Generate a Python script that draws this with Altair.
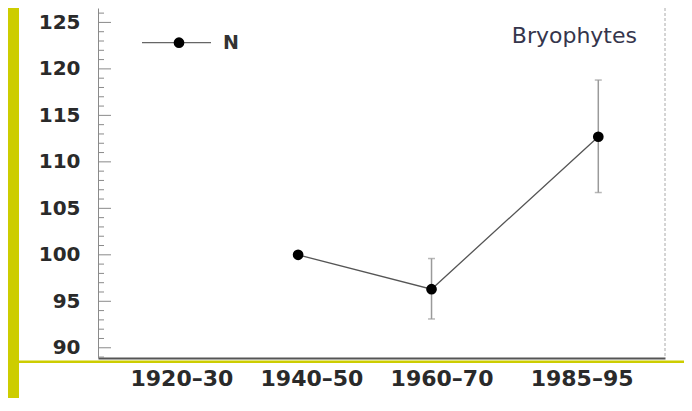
import altair as alt
import pandas as pd

# ---- data ----
periods = ["1920–30", "1940–50", "1960–70", "1985–95"]
label_pos = [1927.5, 1947, 1966.5, 1987.5]      # where the period labels sit on the year axis
point_year = [1945, 1965, 1990]                 # mid-years of the periods with data
n_values = [100.0, 96.3, 112.7]
err_low = [None, 93.1, 106.7]
err_high = [None, 99.6, 118.8]
y_major = [90, 95, 100, 105, 110, 115, 120, 125]
y_minor = list(range(89, 127))
legend_label = "N"
panel_title = "Bryophytes"

YELLOW = "#cdcd00"
FONT = "DejaVu Sans"

df = pd.DataFrame({"year": point_year, "N": n_values})
err_df = pd.DataFrame({"year": point_year, "lo": err_low, "hi": err_high}).dropna()
minor_df = pd.DataFrame({"t": [v for v in y_minor if v not in y_major]})
major_df = pd.DataFrame({"t": y_major})
one = pd.DataFrame({"k": [0]})

xs = alt.Scale(domain=[1915, 2000], nice=False, zero=False)
ys = alt.Scale(domain=[88.9, 126.55], nice=False, zero=False)

label_expr = (
    "[" + ",".join("'" + p + "'" for p in periods) + "]"
    "[indexof([" + ",".join(str(v) for v in label_pos) + "], datum.value)]"
)

x_axis = alt.Axis(
    title="", values=label_pos, labelExpr=label_expr, ticks=False, grid=False,
    domainColor="#555555", domainWidth=2, labelFontSize=22, labelColor="#2a2a2a",
    labelPadding=10, labelFont=FONT, labelFontWeight="bold",
)
y_axis = alt.Axis(
    title="", values=y_major, ticks=False, grid=False, domainColor="#8a8a8a",
    domainWidth=1, labelFontSize=20, labelColor="#2a2a2a", labelPadding=18,
    labelFont=FONT, labelFontWeight="bold",
)

line = alt.Chart(df).mark_line(color="#555555", strokeWidth=1.3).encode(
    x=alt.X("year:Q", scale=xs, axis=x_axis),
    y=alt.Y("N:Q", scale=ys, axis=y_axis),
)
points = alt.Chart(df).mark_point(filled=True, color="#000000", size=115, opacity=1).encode(
    x=alt.X("year:Q", scale=xs, axis=x_axis),
    y=alt.Y("N:Q", scale=ys, axis=y_axis),
)
errs = alt.Chart(err_df).mark_errorbar(
    ticks={"size": 7}, color="#9a9a9a", thickness=1.5
).encode(
    x=alt.X("year:Q", scale=xs, axis=x_axis),
    y=alt.Y("lo:Q", scale=ys, axis=y_axis),
    y2="hi:Q",
)

minor_ticks = alt.Chart(minor_df).mark_rule(color="#8a8a8a", strokeWidth=1).encode(
    y=alt.Y("t:Q", scale=ys, axis=y_axis), x=alt.value(0), x2=alt.value(6)
)
major_ticks = alt.Chart(major_df).mark_rule(color="#8a8a8a", strokeWidth=1).encode(
    y=alt.Y("t:Q", scale=ys, axis=y_axis), x=alt.value(0), x2=alt.value(13)
)
right_edge = alt.Chart(one).mark_rule(color="#aaaaaa", strokeWidth=1, strokeDash=[3, 2]).encode(
    x=alt.value(567), y=alt.value(0), y2=alt.value(350)
)

# yellow slide decoration
left_band = alt.Chart(one).mark_rect(color=YELLOW).encode(
    x=alt.value(-90), x2=alt.value(-79), y=alt.value(0), y2=alt.value(390)
)
bottom_band = alt.Chart(one).mark_rect(color=YELLOW).encode(
    x=alt.value(-79), x2=alt.value(590), y=alt.value(352.5), y2=alt.value(355)
)

# legend
leg_line = alt.Chart(one).mark_rule(color="#666666", strokeWidth=1.3).encode(
    x=alt.value(44), x2=alt.value(113), y=alt.value(34.7)
)
leg_dot = alt.Chart(one).mark_point(filled=True, color="#000000", size=115, opacity=1).encode(
    x=alt.value(81), y=alt.value(34.7)
)
leg_text = alt.Chart(one).mark_text(
    text=legend_label, font=FONT, fontSize=19, fontWeight="bold", color="#333333",
    align="left", baseline="middle",
).encode(x=alt.value(125), y=alt.value(35))

title_text = alt.Chart(one).mark_text(
    text=panel_title, font=FONT, fontSize=22, color="#35354c",
    align="right", baseline="alphabetic",
).encode(x=alt.value(539), y=alt.value(35))

chart = alt.layer(
    left_band, bottom_band, line, minor_ticks, major_ticks, right_edge,
    errs, points, leg_line, leg_dot, leg_text, title_text,
).properties(
    width=567, height=350,
    autosize=alt.AutoSizeParams(type="none"),
    padding={"left": 90, "top": 0, "right": 19, "bottom": 40},
    background="white",
).configure_view(stroke="transparent")

chart.save("out.html", embed_options={"renderer": "svg", "actions": False})
